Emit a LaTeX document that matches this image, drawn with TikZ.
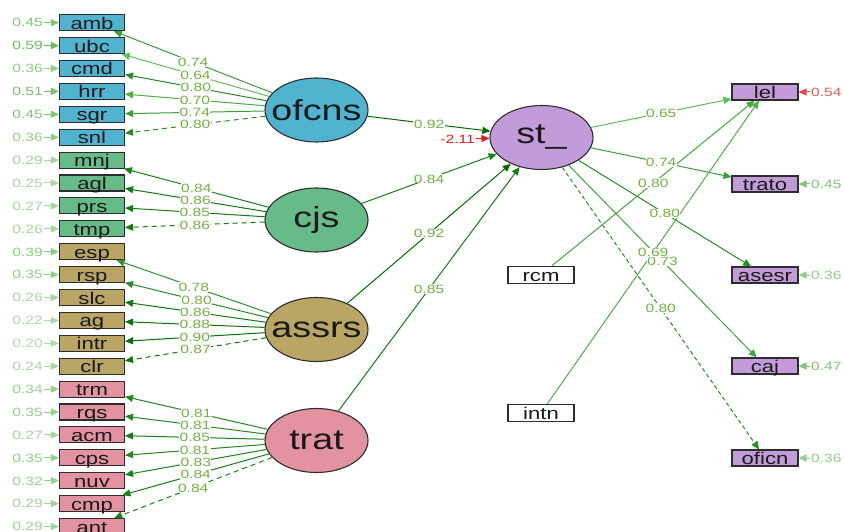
\documentclass[tikz,border=0pt]{standalone}
\usepackage{fontspec}
\setmainfont{Liberation Sans}
\newfontfamily\wsans[FakeStretch=1.3]{Liberation Sans}
\usetikzlibrary{shapes.geometric,arrows.meta}

\definecolor{cBlue}{RGB}{80,180,208}
\definecolor{cGreen}{RGB}{102,187,136}
\definecolor{cTan}{RGB}{185,165,100}
\definecolor{cPink}{RGB}{226,146,161}
\definecolor{cPurple}{RGB}{194,156,216}
\definecolor{eDk}{RGB}{0,110,0}
\definecolor{eLt}{RGB}{110,205,100}
\definecolor{labc}{RGB}{115,178,65}
\definecolor{resc}{RGB}{85,180,70}
\definecolor{negc}{RGB}{235,25,25}
\definecolor{negl}{RGB}{228,95,95}
\definecolor{rim}{RGB}{45,45,45}

\tikzset{
  ind/.style={draw=rim, line width=1.1pt, minimum width=65pt, minimum height=16pt,
    inner sep=0pt, text height=14pt, text depth=1pt, text=black!90,
    font=\wsans\fontsize{17pt}{17pt}\selectfont},
  obsbox/.style={ind, fill=white, minimum width=66pt, minimum height=17pt},
  lat/.style={ellipse, draw=rim, line width=1.1pt, minimum width=103pt,
    minimum height=64pt, inner sep=0pt, text=black!90,
    font=\wsans\fontsize{29pt}{29pt}\selectfont},
  ld/.style={draw=eDk!#1!eLt, line width=1pt, -{Triangle[length=8pt,width=7pt]}},
  sld/.style={},
  dsh/.style={dash pattern=on 5pt off 4pt},
  dshR/.style={dash pattern=on 4pt off 3pt},
  lab/.style={font=\wsans\fontsize{12pt}{12pt}\selectfont, text=labc, fill=white,
    inner sep=0.4pt, text height=8.6pt, text depth=0pt},
  reslab/.style={font=\wsans\fontsize{12pt}{12pt}\selectfont, inner sep=1pt,
    text height=8.6pt, text depth=0pt},
  resar/.style={line width=1pt, -{Triangle[length=8pt,width=7pt]}},
}

% indicator / colour / factor / residual / loading / line style
\def\leftlist{amb/cBlue/ofcns/0.45/0.74/sld, ubc/cBlue/ofcns/0.59/0.64/sld,
  cmd/cBlue/ofcns/0.36/0.80/sld, hrr/cBlue/ofcns/0.51/0.70/sld,
  sgr/cBlue/ofcns/0.45/0.74/sld, snl/cBlue/ofcns/0.36/0.80/dsh,
  mnj/cGreen/cjs/0.29/0.84/sld, agl/cGreen/cjs/0.25/0.86/sld,
  prs/cGreen/cjs/0.27/0.85/sld, tmp/cGreen/cjs/0.26/0.86/dsh,
  esp/cTan/assrs/0.39/0.78/sld, rsp/cTan/assrs/0.35/0.80/sld,
  slc/cTan/assrs/0.26/0.86/sld, ag/cTan/assrs/0.22/0.88/sld,
  intr/cTan/assrs/0.20/0.90/sld, clr/cTan/assrs/0.24/0.87/dsh,
  trm/cPink/trat/0.34/0.81/sld, rqs/cPink/trat/0.35/0.81/sld,
  acm/cPink/trat/0.27/0.85/sld, cps/cPink/trat/0.35/0.81/sld,
  nuv/cPink/trat/0.32/0.83/sld, cmp/cPink/trat/0.29/0.84/sld,
  ant/cPink/trat/0.29/0.84/dsh}

% indicator / y / residual / loading / line style
\def\rightlist{trato/184/0.45/0.74/sld, asesr/275/0.36/0.80/sld,
  caj/366/0.47/0.73/sld, oficn/458/0.36/0.80/dshR}

\begin{document}
\begin{tikzpicture}[x=1pt,y=-1pt]
\useasboundingbox[fill=white] (0,0) rectangle (844,532);

% latent factors
\node[lat, fill=cBlue]   (ofcns) at (316.5,110)   {\makebox[0pt]{ofcns}};
\node[lat, fill=cGreen]  (cjs)   at (316.5,220)   {\makebox[0pt]{cjs}};
\node[lat, fill=cTan]    (assrs) at (316.5,329.5) {\makebox[0pt]{assrs}};
\node[lat, fill=cPink]   (trat)  at (316.5,440.5) {\makebox[0pt]{trat}};
\node[lat, fill=cPurple] (st)    at (541.5,137.5) {\makebox[0pt]{st\_}};

% observed covariates
\node[obsbox] (rcm)  at (541,274.7) {rcm};
\node[obsbox] (intn) at (541,413)   {intn};

% left indicators with residuals and loadings
\foreach \n/\f/\lt/\r/\l/\s [count=\i from 0] in \leftlist {
  \pgfmathsetmacro\yy{22.7+22.9*\i}
  \node[ind, fill=\f] (\n) at (92,\yy) {\n};
  \pgfmathtruncatemacro\q{25+\r*110}
  \node[reslab, text=resc!\q!white, anchor=east] (r\n) at (44,\yy) {\r};
  \draw[resar, draw=resc!\q!white] (r\n) -- (\n);
  \pgfmathtruncatemacro\p{min(100,max(0,(\l-0.6)*330))}
  \draw[ld=\p, \s] (\lt) -- (\n) coordinate[pos=0.5] (m\n);
}

% right indicators
\node[ind, fill=cPurple, minimum width=66pt] (lel) at (765,92) {lel};
\node[reslab, text=negl, anchor=west] (rlel) at (810,92) {0.54};
\draw[resar, draw=negc!80!white] (rlel) -- (lel);
\draw[ld=16] (st) -- (lel) coordinate[pos=0.5] (mlel);
\foreach \n/\y/\r/\l/\s in \rightlist {
  \node[ind, fill=cPurple, minimum width=66pt] (\n) at (765,\y) {\n};
  \pgfmathtruncatemacro\q{25+\r*110}
  \node[reslab, text=resc!\q!white, anchor=west] (r\n) at (810,\y) {\r};
  \draw[resar, draw=resc!\q!white] (r\n) -- (\n);
  \pgfmathtruncatemacro\p{min(100,max(0,(\l-0.6)*330))}
  \draw[ld=\p, \s] (st) -- (\n) coordinate[pos=0.5] (m\n);
}

% structural paths
\draw[ld=100] (ofcns) -- (st) coordinate[pos=0.5] (mA);
\draw[ld=79]  (cjs)   -- (st) coordinate[pos=0.5] (mB);
\draw[ld=100] (assrs) -- (st) coordinate[pos=0.5] (mC);
\draw[ld=83]  (trat)  -- (st) coordinate[pos=0.5] (mD);
\draw[ld=40]  (rcm)   -- (lel) coordinate[pos=0.5] (mE);
\draw[ld=30]  (intn)  -- (lel) coordinate[pos=0.5] (mF);

% residual of st_
\node[reslab, text=negc, anchor=east] (rst) at (476,139) {-2.11};
\draw[resar, draw=negc] (rst) -- (st);

% path labels
\foreach \n/\f/\lt/\r/\l/\s in \leftlist { \node[lab] at (m\n) {\l}; }
\foreach \n/\y/\r/\l/\s in \rightlist { \node[lab] at (m\n) {\l}; }
\node[lab] at (mlel) {0.65};
\node[lab] at (mA) {0.92};
\node[lab] at (mB) {0.84};
\node[lab] at (mC) {0.92};
\node[lab] at (mD) {0.85};
\node[lab] at (mE) {0.80};
\node[lab] at (mF) {0.69};
\end{tikzpicture}
\end{document}
